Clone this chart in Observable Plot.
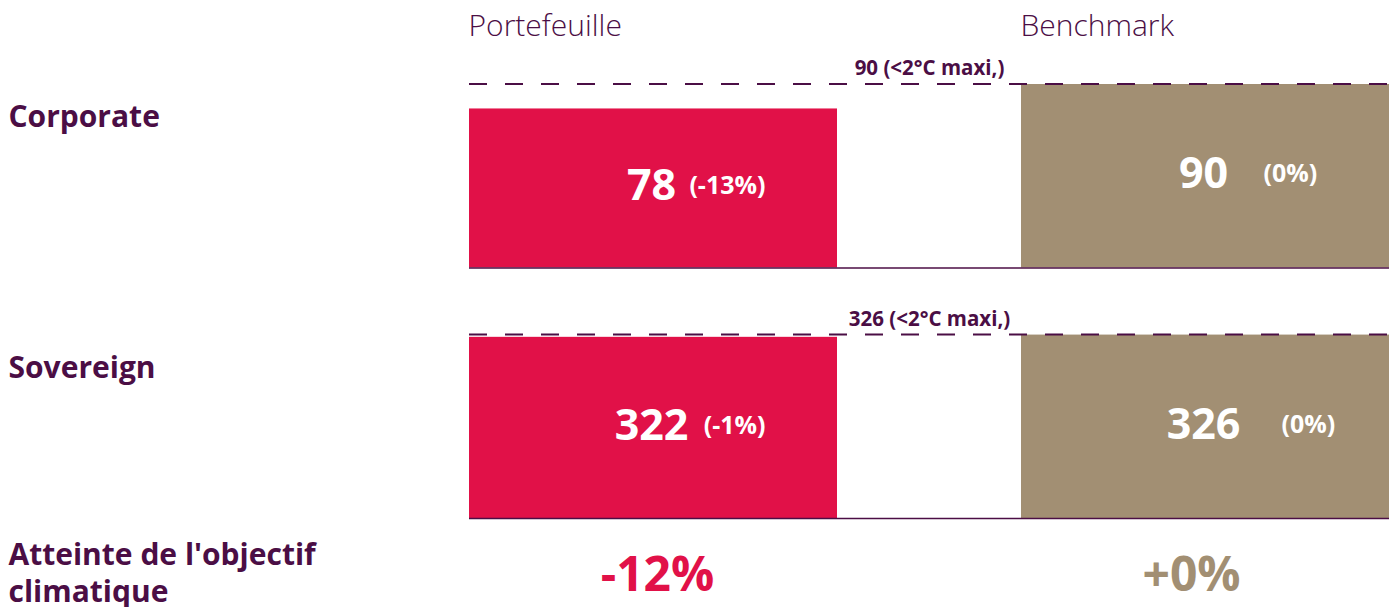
<!DOCTYPE html>
<html><head><meta charset="utf-8">
<script src="https://cdn.jsdelivr.net/npm/d3@7"></script>
<script src="https://cdn.jsdelivr.net/npm/@observablehq/plot@0.6"></script>
<style>body{margin:0;background:#fff;} #chart svg{display:block;}</style>
</head><body><div id="chart"></div>
<script>
const rows = ["Corporate", "Sovereign"];
const series = ["Portefeuille", "Benchmark"];
const portfolioValues = [78, 322];
const benchmarkValues = [90, 326];
const portfolioChange = ["(-13%)", "(-1%)"];
const benchmarkChange = ["(0%)", "(0%)"];
const thresholds = [90, 326];
const thresholdLabels = ["90 (<2°C maxi,)", "326 (<2°C maxi,)"];
const goalLabel = "Atteinte de l'objectif\nclimatique";
const goalValues = ["-12%", "+0%"];

const PURPLE = "#4b0e45", RED = "#e11148", TAN = "#a28f73";

const table = [];
rows.forEach((row, i) => {
  table.push({row, i, series: series[0], value: portfolioValues[i], ratio: portfolioValues[i] / thresholds[i], change: portfolioChange[i]});
  table.push({row, i, series: series[1], value: benchmarkValues[i], ratio: benchmarkValues[i] / thresholds[i], change: benchmarkChange[i]});
});
const thresholdTable = rows.map((row, i) => ({row, ratio: thresholds[i] / thresholds[i], label: thresholdLabels[i]}));
const goalTable = series.map((s, i) => ({series: s, label: goalValues[i], row: rows[rows.length - 1]}));

const bold = {fontWeight: "bold"};
const mid = {lineAnchor: "middle"};
const chart = Plot.plot({
  width: 1393, height: 607,
  marginLeft: 469, marginRight: 4, marginTop: 84, marginBottom: 89,
  style: {fontFamily: "'Open Sans', sans-serif", background: "white"},
  x: {domain: series, paddingInner: 1/3, paddingOuter: 0, round: false, axis: null},
  y: {domain: [0, 1], axis: null},
  fy: {domain: rows, paddingInner: 67/250, paddingOuter: 0, round: false, axis: null},
  color: {domain: series, range: [RED, TAN]},
  marks: [
    Plot.barY(table, {x: "series", y: "ratio", fy: "row", fill: "series"}),
    Plot.ruleY(rows, {y: () => 0, fy: d => d, stroke: PURPLE, strokeWidth: 1.5}),
    Plot.ruleY(thresholdTable, {y: "ratio", fy: "row", stroke: PURPLE, strokeWidth: 2, strokeDasharray: "18 18", dy: -0.5}),
    Plot.text(thresholdTable, {y: "ratio", fy: "row", text: "label", fill: PURPLE, fontSize: 20.5, ...bold, dy: -16}),
    // value labels
    Plot.text(table, {x: "series", y: d => d.ratio / 2, fy: "row", text: d => String(d.value), fill: "white", fontSize: 43, ...bold, dx: -2, dy: -2}),
    Plot.text(table.filter(d => d.series === series[0]), {x: "series", y: d => d.ratio / 2, fy: "row", text: "change", fill: "white", fontSize: 25, ...bold, textAnchor: "end", dx: 112, dy: -2}),
    Plot.text(table.filter(d => d.series === series[1] && d.i === 0), {x: "series", y: d => d.ratio / 2, fy: "row", text: "change", fill: "white", fontSize: 25, ...bold, textAnchor: "start", dx: 58, dy: -2}),
    Plot.text(table.filter(d => d.series === series[1] && d.i === 1), {x: "series", y: d => d.ratio / 2, fy: "row", text: "change", fill: "white", fontSize: 25, ...bold, textAnchor: "start", dx: 76, dy: -2}),
    // row labels
    Plot.text(rows, {fy: d => d, text: d => d, frameAnchor: "top-left", ...mid, textAnchor: "start", dx: -461, dy: 33, fill: PURPLE, fontSize: 30, ...bold}),
    // column headers
    Plot.text(series, {x: d => d, fy: () => rows[0], text: d => d, frameAnchor: "top", ...mid, textAnchor: "start", dx: -185, dy: -58, fill: PURPLE, fontSize: 30, fontWeight: 300}),
    // goal row
    Plot.text([goalLabel], {fy: () => rows[rows.length - 1], text: d => d, frameAnchor: "bottom-left", ...mid, textAnchor: "start", lineHeight: 1.25, dx: -461, dy: 53, fill: PURPLE, fontSize: 30, ...bold}),
    Plot.text(goalTable.filter(d => d.series === series[0]), {x: "series", fy: "row", text: "label", frameAnchor: "bottom", ...mid, dx: 4, dy: 57, fill: RED, fontSize: 48, ...bold}),
    Plot.text(goalTable.filter(d => d.series === series[1]), {x: "series", fy: "row", text: "label", frameAnchor: "bottom", ...mid, dx: -14, dy: 57, fill: TAN, fontSize: 48, ...bold})
  ]
});
document.getElementById("chart").appendChild(chart);
</script>
</body></html>
